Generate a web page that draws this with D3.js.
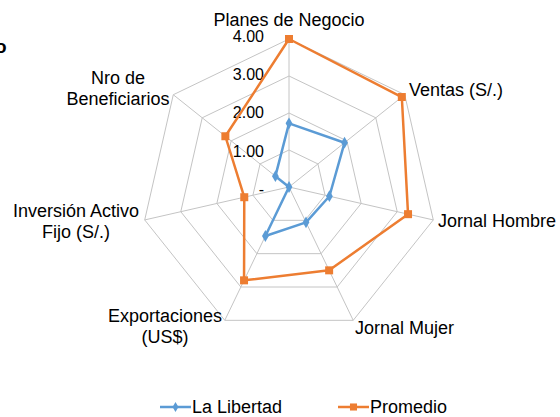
<!DOCTYPE html>
<html>
<head>
<meta charset="utf-8">
<script src="https://cdn.jsdelivr.net/npm/d3@7"></script>
<style>
  body { margin: 0; background: #fff; }
  text { font-family: "Liberation Sans", Arial, sans-serif; fill: #000; }
</style>
</head>
<body>
<script>

var width = 560;
var height = 417;

// axes, clockwise from the top
var axesNames = ["Planes de Negocio", "Ventas (S/.)", "Jornal Hombre", "Jornal Mujer",
                 "Exportaciones (US$)", "Inversión Activo Fijo (S/.)", "Nro de Beneficiarios"];
var laLibertad = [1.72, 1.92, 1.12, 1.06, 1.47, 0, 0.47];
var promedio = [4.0, 3.9, 3.3, 2.5, 2.8, 1.24, 2.2];
var tickValues = [0, 1, 2, 3, 4];
var tickLabels = ["-", "1.00", "2.00", "3.00", "4.00"];

var cx = 289, cy = 187, R = 148;

var svg = d3.select("body")
  .append("svg")
  .attr("width", width)
  .attr("height", height);

var r = d3.scaleLinear().domain([0, 4]).range([0, R]);
var angle = d3.scaleLinear().domain([0, axesNames.length]).range([0, 2 * Math.PI]);

function pt(i, v) {
  var a = angle(i);
  return [cx + r(v) * Math.sin(a), cy - r(v) * Math.cos(a)];
}

// partial title at the left edge (cut off in the original too)
svg.append("text")
  .attr("x", -5).attr("y", 53)
  .attr("font-size", 19).attr("font-weight", "bold")
  .text("o");

var grid = svg.append("g");

// rings
tickValues.slice(1).forEach(function(t) {
  var pts = d3.range(axesNames.length).map(function(i) { return pt(i, t); });
  grid.append("polygon")
    .attr("points", pts.map(function(p) { return p.join(","); }).join(" "))
    .attr("fill", "none")
    .attr("stroke", "#c4c4c4")
    .attr("stroke-width", 1);
});

// spokes
axesNames.forEach(function(d, i) {
  var p = pt(i, 4);
  grid.append("line")
    .attr("x1", cx).attr("y1", cy)
    .attr("x2", p[0]).attr("y2", p[1])
    .attr("stroke", "#c4c4c4")
    .attr("stroke-width", 1);
});

// tick labels (excel spreads them a little wider than the rings)
svg.append("g").selectAll("text")
  .data(tickValues)
  .enter().append("text")
  .attr("x", cx - 25)
  .attr("y", function(d) { return cy - r(d) * 1.035 + 8; })
  .attr("text-anchor", "end")
  .attr("font-size", 16)
  .text(function(d, i) { return tickLabels[i]; });

// axis labels
var labelPos = [
  { x: 289, y: 26, anchor: "middle", lines: ["Planes de Negocio"] },
  { x: 409, y: 96, anchor: "start", lines: ["Ventas (S/.)"] },
  { x: 438, y: 227, anchor: "start", lines: ["Jornal Hombre"] },
  { x: 355, y: 334, anchor: "start", lines: ["Jornal Mujer"] },
  { x: 165, y: 322, anchor: "middle", lines: ["Exportaciones", "(US$)"] },
  { x: 76, y: 217, anchor: "middle", lines: ["Inversión Activo", "Fijo (S/.)"] },
  { x: 118, y: 84, anchor: "middle", lines: ["Nro de", "Beneficiarios"] }
];

labelPos.forEach(function(l) {
  var t = svg.append("text")
    .attr("x", l.x).attr("y", l.y)
    .attr("text-anchor", l.anchor)
    .attr("font-size", 18);
  l.lines.forEach(function(s, j) {
    t.append("tspan").attr("x", l.x).attr("dy", j === 0 ? 0 : 21).text(s);
  });
});

var line = d3.line().curve(d3.curveLinearClosed);

function drawSeries(values, color, symbol, size) {
  var pts = values.map(function(v, i) { return pt(i, v); });
  svg.append("path")
    .attr("d", line(pts))
    .attr("fill", "none")
    .attr("stroke", color)
    .attr("stroke-width", 2.5)
    .attr("stroke-linejoin", "round");
  svg.append("g").selectAll("path")
    .data(pts)
    .enter().append("path")
    .attr("transform", function(d) { return "translate(" + d[0] + "," + d[1] + ")"; })
    .attr("d", d3.symbol().type(symbol).size(size))
    .attr("fill", color);
}

drawSeries(laLibertad, "#5b9bd5", d3.symbolDiamond, 40);
drawSeries(promedio, "#ed7d31", d3.symbolSquare, 64);

// legend
var legend = [
  { name: "La Libertad", color: "#5b9bd5", symbol: d3.symbolDiamond, size: 30, x: 160 },
  { name: "Promedio", color: "#ed7d31", symbol: d3.symbolSquare, size: 50, x: 338 }
];
var lg = svg.append("g").selectAll("g")
  .data(legend)
  .enter().append("g")
  .attr("transform", function(d) { return "translate(" + d.x + ",407)"; });
lg.append("line")
  .attr("x1", 0).attr("x2", 31)
  .attr("stroke", function(d) { return d.color; })
  .attr("stroke-width", 2.5);
lg.append("path")
  .attr("transform", "translate(15.5,0)")
  .attr("d", function(d) { return d3.symbol().type(d.symbol).size(d.size)(); })
  .attr("fill", function(d) { return d.color; });
lg.append("text")
  .attr("x", 32).attr("y", 6)
  .attr("font-size", 18)
  .text(function(d) { return d.name; });

</script>
</body>
</html>
